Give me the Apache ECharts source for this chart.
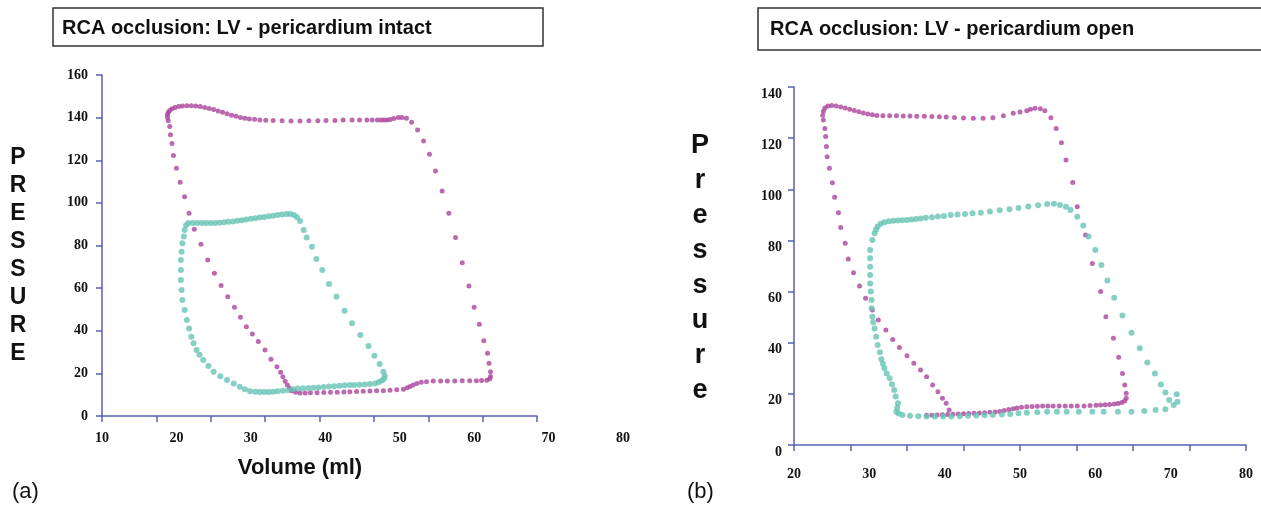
<!DOCTYPE html>
<html>
<head>
<meta charset="utf-8">
<script src="https://cdn.jsdelivr.net/npm/echarts@6/dist/echarts.min.js"></script>
<style>
  html, body { margin: 0; padding: 0; background: #fff; }
  #chart { width: 1261px; height: 508px; }
</style>
</head>
<body>
<div id="chart"></div>
<script>
// [volume ml, pressure], loop order
var intactPink = [
  [62.2,18.5],[62.2,20.8],[62.0,24.7],[61.8,29.4],[61.3,35.3],[60.7,43],[60.0,51],[59.3,61],[58.4,71.9],[57.5,83.8],
  [56.6,95.1],[55.7,105.6],[54.8,115],[54.0,122.8],[53.2,129],[52.4,134.2],[51.6,137.8],[50.9,139.7],[50.3,140.1],[49.8,140.1],
  [49.2,139.6],[48.7,139.1],[48.3,138.9],[47.9,138.9],[47.5,138.9],[47.0,138.9],[46.3,138.9],[45.6,138.9],[44.6,138.9],[43.6,138.9],
  [42.4,138.9],[41.3,138.7],[40.1,138.6],[39.0,138.5],[37.8,138.5],[36.6,138.4],[35.4,138.4],[34.2,138.5],[33.0,138.6],[32.0,138.8],
  [31.2,138.9],[30.5,139.2],[29.8,139.4],[29.2,139.7],[28.6,140.1],[28.0,140.6],[27.4,141.1],[26.8,141.8],[26.2,142.5],[25.6,143.1],
  [25.0,143.8],[24.4,144.3],[23.8,144.8],[23.2,145.2],[22.6,145.5],[22.0,145.6],[21.4,145.6],[20.8,145.5],[20.3,145.2],[19.8,144.8],
  [19.4,144.2],[19.1,143.4],[18.9,142.4],[18.8,141.3],[18.8,140.1],[18.9,138.5],[19.1,135.8],[19.2,132],[19.4,127.9],[19.6,122.2],
  [20.0,116.2],[20.5,109.7],[21.1,102.9],[21.7,95.1],[22.4,87.6],[23.3,80.6],[24.2,73.2],[25.1,67],[26.0,61.2],[26.9,56],
  [27.8,51],[28.6,46.3],[29.4,41.9],[30.2,38.5],[31.0,34.9],[31.9,31],[32.7,26.6],[33.5,23.1],[34.0,20.5],[34.3,18.4],
  [34.6,16.3],[34.9,14.5],[35.2,13],[35.5,11.9],[36.0,11.2],[36.6,10.8],[37.3,10.8],[38.0,10.9],[38.9,10.9],[39.8,11.0],
  [40.7,11.1],[41.6,11.2],[42.5,11.3],[43.3,11.4],[44.2,11.5],[45.1,11.6],[46.0,11.7],[46.9,11.8],[47.8,11.9],[48.7,12.1],
  [49.6,12.3],[50.5,12.5],[51.0,13.2],[51.4,13.8],[51.8,14.6],[52.3,15.3],[52.9,15.8],[53.6,16.1],[54.5,16.4],[55.5,16.4],
  [56.4,16.4],[57.4,16.4],[58.4,16.5],[59.4,16.5],[60.3,16.5],[61.0,16.6],[61.7,16.8],[62.1,17.5]
];
var intactTeal = [
  [21.6,90.6],[22.2,90.6],[22.8,90.5],[23.4,90.5],[24.0,90.5],[24.6,90.5],[25.2,90.6],[25.8,90.7],[26.4,90.9],[27.0,91.1],
  [27.6,91.3],[28.2,91.6],[28.8,91.9],[29.4,92.2],[30.0,92.5],[30.6,92.8],[31.2,93.1],[31.8,93.4],[32.4,93.7],[33.0,94.0],
  [33.6,94.3],[34.2,94.6],[34.8,94.8],[35.3,94.8],[35.8,94.3],[36.2,93.3],[36.6,91.5],[37.1,87.3],[37.5,83.7],[38.2,79.4],
  [38.8,73.7],[39.6,68.5],[40.5,61.9],[41.5,56],[42.6,49.4],[43.6,43.5],[44.7,38],[45.8,32.8],[46.6,28.3],[47.3,24.4],
  [47.8,20.8],[48.0,18.8],[47.9,17.5],[47.6,16.6],[47.2,15.9],[46.7,15.3],[46.0,15.0],[45.3,14.8],[44.6,14.7],[43.9,14.6],
  [43.3,14.5],[42.6,14.4],[41.9,14.2],[41.2,14.0],[40.5,13.8],[39.8,13.6],[39.1,13.4],[38.4,13.2],[37.7,13.1],[37.0,13.0],
  [36.3,12.9],[35.7,12.5],[35.0,12.1],[34.3,11.8],[33.6,11.6],[33.0,11.4],[32.4,11.3],[31.8,11.3],[31.2,11.3],[30.6,11.4],
  [29.9,11.6],[29.2,12.5],[28.5,13.7],[27.7,15.2],[26.8,16.9],[25.9,18.7],[25.0,20.8],[24.3,23.5],[23.6,26.3],[23.1,28.7],
  [22.7,31],[22.3,34.1],[22.0,37.2],[21.7,41.1],[21.4,45],[21.1,49.7],[20.8,54.4],[20.7,59.1],[20.6,63.8],[20.6,68.5],
  [20.6,73.2],[20.7,77.1],[20.8,81],[21.0,84.2],[21.1,87.3],[21.3,89.5]
];
var openPink = [
  [64.1,20.2],[63.9,23.5],[63.6,28],[63.1,34.3],[62.4,41.7],[61.4,50.2],[60.7,60],[59.6,71],[58.7,82.1],[57.6,93.2],
  [57.0,102.7],[56.1,111.5],[55.5,118.2],[54.8,123.8],[54.1,128],[53.3,130.7],[52.7,131.5],[52.0,131.7],[51.4,131.3],[50.9,130.7],
  [50.0,130.2],[49.1,129.7],[47.8,128.8],[46.4,128],[45.1,127.8],[43.8,127.8],[42.5,127.9],[41.3,128.1],[40.2,128.3],[39.3,128.4],
  [38.3,128.5],[37.3,128.6],[36.3,128.6],[35.4,128.7],[34.5,128.7],[33.6,128.8],[32.7,128.8],[31.8,128.8],[31.0,128.9],[30.4,129.1],
  [29.8,129.4],[29.2,129.8],[28.6,130.3],[28.0,130.8],[27.4,131.3],[26.8,131.8],[26.2,132.2],[25.6,132.6],[25.0,132.8],[24.5,132.6],
  [24.1,131.8],[23.9,130.5],[23.8,129],[23.9,127.1],[24.1,123.8],[24.2,120.6],[24.3,116.7],[24.4,112.7],[24.7,108.2],[25.1,102.6],
  [25.4,96.9],[25.9,90.8],[26.2,85.1],[26.8,78.9],[27.2,72.7],[27.9,67.4],[28.7,62.2],[29.5,57.4],[30.4,52.8],[31.2,48.9],
  [32.2,45],[33.1,41.3],[34.0,38.1],[35.0,34.9],[35.9,32],[36.8,29.3],[37.6,26.7],[38.4,23.5],[39.1,20.8],[39.7,18.3],
  [40.2,16.3],[40.6,13.7],[37.6,11.6],[38.3,11.6],[39.0,11.7],[39.7,11.8],[40.4,11.9],[41.1,12.0],[41.8,12.1],[42.5,12.2],
  [43.2,12.3],[43.9,12.4],[44.6,12.5],[45.3,12.6],[46.0,12.8],[46.7,12.9],[47.3,13.1],[47.9,13.5],[48.5,13.9],[49.1,14.2],
  [49.6,14.5],[50.2,14.8],[50.9,15.0],[51.6,15.1],[52.3,15.2],[53.0,15.3],[53.7,15.3],[54.4,15.3],[55.2,15.3],[56.0,15.3],
  [56.8,15.3],[57.6,15.3],[58.5,15.3],[59.3,15.4],[60.1,15.5],[60.7,15.6],[61.3,15.7],[61.9,15.8],[62.5,16.0],[63.0,16.2],
  [63.5,16.6],[63.9,17.2],[64.1,18.3]
];
var openTeal = [
  [31.1,85.4],[31.5,86.5],[32.0,87.1],[32.6,87.5],[33.2,87.7],[33.8,87.8],[34.4,87.9],[35.0,88.0],[35.6,88.2],[36.2,88.4],
  [36.8,88.6],[37.5,88.9],[38.3,89.1],[39.1,89.4],[39.9,89.6],[40.8,89.9],[41.7,90.1],[42.7,90.3],[43.7,90.6],[44.8,90.8],
  [46.0,91.3],[47.3,91.8],[48.6,92.2],[49.8,92.7],[51.1,93.3],[52.4,93.8],[53.6,94.2],[54.5,94.3],[55.3,93.9],[56.1,93.2],
  [56.7,91.9],[57.6,89.3],[58.4,85.8],[59.1,81.5],[60.0,76.3],[60.8,70.4],[61.6,64.3],[62.5,57.6],[63.6,50.6],[64.8,43.9],
  [65.9,37.8],[66.9,32.3],[67.9,28],[68.7,23.7],[69.3,20.5],[70.8,19.8],[70.9,16.9],[69.8,17.6],[70.4,15.6],[69.3,14],
  [68.0,13.7],[66.5,13.3],[64.8,13.0],[63.0,13.0],[61.1,13.0],[59.6,13.0],[57.8,13.0],[56.2,13.0],[54.9,13.0],[53.6,13.0],
  [52.3,12.8],[50.9,12.6],[49.8,12.4],[48.7,12.1],[47.6,11.9],[46.4,11.7],[45.3,11.6],[44.2,11.5],[43.1,11.4],[42.0,11.2],
  [40.9,11.1],[39.8,11.1],[38.7,11.1],[37.6,11.1],[36.5,11.2],[35.4,11.4],[34.4,11.7],[33.9,12.3],[33.6,13.0],[33.7,14.6],
  [33.8,16.3],[33.5,19.0],[33.3,21.5],[33.0,23.8],[32.7,26.1],[32.3,28.0],[32.0,30],[31.8,31.8],[31.6,33.5],[31.4,36.3],
  [31.1,39.1],[30.9,42.3],[30.7,45.6],[30.5,48.0],[30.4,50.2],[30.3,53.5],[30.3,56.7],[30.2,60.0],[30.1,63.2],[30.1,66.5],
  [30.1,69.7],[30.1,73.0],[30.1,76.3],[30.4,80.2],[30.7,82.8],[30.9,84.3]
];

var titleIntact = 'RCA occlusion: LV - pericardium intact';
var titleOpen = 'RCA occlusion: LV - pericardium open';

var axisBlue = '#5a60b2';
var pink = '#ab459c';
var teal = '#66c4b4';
var tickFont = { color: '#111', fontFamily: 'Liberation Serif', fontWeight: 'bold', fontSize: 14 };

var chart = echarts.init(document.getElementById('chart'));

function labelAxis(grid, min, max, margin) {
  return {
    type: 'value', gridIndex: grid, min: min, max: max, interval: 10, position: 'bottom',
    axisLine: { show: false }, axisTick: { show: false }, splitLine: { show: false },
    axisLabel: Object.assign({ margin: margin }, tickFont)
  };
}
function tickAxis(grid) {
  return {
    type: 'value', gridIndex: grid, min: 0, max: 8, interval: 1, position: 'bottom',
    axisLine: { show: true, onZero: false, lineStyle: { color: axisBlue, width: 1.5 } },
    axisTick: { show: true, length: 6, lineStyle: { color: axisBlue, width: 1.5 } },
    axisLabel: { show: false }, splitLine: { show: false }
  };
}
function dots(name, data, x, y, color, size) {
  return {
    name: name, type: 'scatter', xAxisIndex: x, yAxisIndex: y, data: data,
    symbolSize: size, itemStyle: { color: color }, silent: true
  };
}

var option = {
  backgroundColor: '#fff',
  animation: false,
  grid: [
    { left: 102, right: 638, top: 75, bottom: 92 },
    { left: 102, width: 435, top: 75, bottom: 92 },
    { left: 794, right: 15, top: 87, bottom: 63 }
  ],
  xAxis: [
    labelAxis(0, 10, 80, 15),
    tickAxis(1),
    labelAxis(2, 20, 80, 22),
    tickAxis(2)
  ],
  yAxis: [
    {
      type: 'value', gridIndex: 0, min: 0, max: 160, interval: 20,
      axisLine: { show: true, onZero: false, lineStyle: { color: axisBlue, width: 1.5 } },
      axisTick: { show: true, length: 6, lineStyle: { color: axisBlue, width: 1.5 } },
      axisLabel: Object.assign({ margin: 14 }, tickFont),
      splitLine: { show: false }
    },
    { type: 'value', gridIndex: 1, min: 0, max: 160, show: false },
    {
      type: 'value', gridIndex: 2, min: 0, max: 140, interval: 20,
      axisLine: { show: true, onZero: false, lineStyle: { color: axisBlue, width: 1.5 } },
      axisTick: { show: true, length: 6, lineStyle: { color: axisBlue, width: 1.5 } },
      axisLabel: Object.assign({ margin: 12, verticalAlign: 'top' }, tickFont),
      splitLine: { show: false }
    }
  ],
  series: [
    dots('intact LV', intactPink, 0, 0, pink, 5),
    dots('intact RCA', intactTeal, 0, 0, teal, 6),
    dots('open LV', openPink, 2, 2, pink, 5),
    dots('open RCA', openTeal, 2, 2, teal, 6)
  ],
  graphic: [
    { type: 'rect', shape: { x: 53, y: 8, width: 490, height: 38 },
      style: { fill: '#fff', stroke: '#333', lineWidth: 1.5 } },
    { type: 'text', x: 62, y: 28,
      style: { text: titleIntact, font: 'bold 20px "Liberation Sans", Arial', fill: '#111', textVerticalAlign: 'middle' } },
    { type: 'rect', shape: { x: 758, y: 8, width: 520, height: 42 },
      style: { fill: '#fff', stroke: '#333', lineWidth: 1.5 } },
    { type: 'text', x: 770, y: 29,
      style: { text: titleOpen, font: 'bold 20px "Liberation Sans", Arial', fill: '#111', textVerticalAlign: 'middle' } },
    { type: 'text', x: 18, y: 256,
      style: { text: 'PRESSURE'.split('').join('\n'), font: 'bold 23px "Liberation Sans", Arial', lineHeight: 28,
        fill: '#111', textAlign: 'center', textVerticalAlign: 'middle' } },
    { type: 'text', x: 700, y: 268,
      style: { text: 'Pressure'.split('').join('\n'), font: 'bold 27px "Liberation Sans", Arial', lineHeight: 35,
        fill: '#111', textAlign: 'center', textVerticalAlign: 'middle' } },
    { type: 'text', x: 300, y: 468,
      style: { text: 'Volume (ml)', font: 'bold 22px "Liberation Sans", Arial', fill: '#111',
        textAlign: 'center', textVerticalAlign: 'middle' } },
    { type: 'text', x: 12, y: 492,
      style: { text: '(a)', font: '22px "Liberation Sans", Arial', fill: '#111', textVerticalAlign: 'middle' } },
    { type: 'text', x: 687, y: 492,
      style: { text: '(b)', font: '22px "Liberation Sans", Arial', fill: '#111', textVerticalAlign: 'middle' } }
  ]
};

chart.setOption(option);
</script>
</body>
</html>
